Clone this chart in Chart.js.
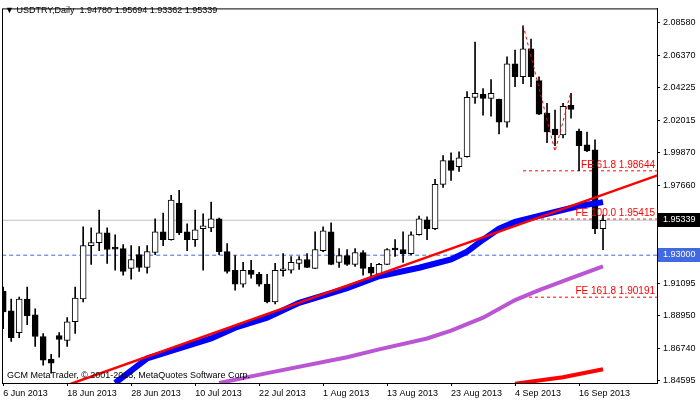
<!DOCTYPE html>
<html>
<head>
<meta charset="utf-8">
<script src="https://cdn.jsdelivr.net/npm/chart.js@4.4.0/dist/chart.umd.min.js"></script>
<style>
  html, body { margin: 0; padding: 0; background: #fff; }
  canvas { display: block; }
</style>
</head>
<body>
<canvas id="fx" width="700" height="402"></canvas>
<script>
// daily bars, 6 Jun 2013 .. 19 Sep 2013
var opens  = [1.9060,1.8928,1.8782,1.9007,1.8901,1.8756,1.8604,1.8763,1.8730,1.8855,
              1.9007,1.9364,1.9384,1.9450,1.9344,1.9344,1.9212,1.9304,1.9218,1.9318,
              1.9457,1.9404,1.9648,1.9457,1.9404,1.9477,1.9483,1.9543,1.9324,1.9199,
              1.9106,1.9199,1.9172,1.9106,1.8987,1.9196,1.9199,1.9245,1.9271,1.9212,
              1.9331,1.9457,1.9252,1.9298,1.9239,1.9318,1.9218,1.9172,1.9239,1.9338,
              1.9338,1.9311,1.9437,1.9536,1.9477,1.9774,1.9933,1.9893,1.9959,2.0356,
              2.0376,2.0349,2.0342,2.0190,2.0580,2.0494,2.0680,2.0468,2.0250,2.0144,
              2.0104,2.0303,2.0130,2.0038,2.0005,1.94780];
var highs  = [1.9086,1.9007,1.9020,1.9086,1.8941,1.8776,1.8637,1.8782,1.8882,1.9086,
              1.9490,1.9483,1.9602,1.9483,1.9437,1.9371,1.9364,1.9358,1.9364,1.9543,
              1.9582,1.9701,1.9734,1.9510,1.9602,1.9576,1.9655,1.9549,1.9377,1.9298,
              1.9252,1.9265,1.9185,1.9172,1.9245,1.9311,1.9291,1.9291,1.9311,1.9457,
              1.9490,1.9516,1.9344,1.9338,1.9344,1.9331,1.9245,1.9245,1.9344,1.9404,
              1.9457,1.9457,1.9562,1.9556,1.9807,1.9966,1.9985,1.9992,2.0395,2.0726,
              2.0415,2.0475,2.0345,2.0627,2.0673,2.0832,2.0746,2.0494,2.0316,2.0270,
              2.0316,2.0382,2.0144,2.0124,2.0071,1.95694];
var lows   = [1.8809,1.8723,1.8749,1.8835,1.8690,1.8564,1.8511,1.8617,1.8690,1.8776,
              1.8987,1.9239,1.9331,1.9245,1.9199,1.9166,1.9140,1.9192,1.9179,1.9304,
              1.9364,1.9400,1.9437,1.9331,1.9358,1.9199,1.9457,1.9304,1.9179,1.9066,
              1.9086,1.9146,1.9093,1.8981,1.8974,1.9159,1.9179,1.9205,1.9216,1.9210,
              1.9324,1.9236,1.9218,1.9232,1.9225,1.9166,1.9153,1.9166,1.9236,1.9291,
              1.9252,1.9304,1.9434,1.9404,1.9470,1.9754,1.9800,1.9860,1.9955,2.0316,
              2.0237,2.0230,2.0111,2.0157,2.0428,2.0448,2.0428,2.0240,2.0052,2.0032,
              2.0085,2.0217,1.9866,1.9992,1.9444,1.93362];
var closes = [1.8921,1.8749,1.9007,1.8895,1.8756,1.8597,1.8577,1.8736,1.8855,1.9013,
              1.9364,1.9384,1.9450,1.9338,1.9341,1.9192,1.9271,1.9218,1.9324,1.9457,
              1.9404,1.9668,1.9450,1.9404,1.9470,1.9497,1.9543,1.9324,1.9192,1.9106,
              1.9199,1.9172,1.9106,1.8987,1.9199,1.9199,1.9252,1.9271,1.9218,1.9338,
              1.9463,1.9239,1.9298,1.9239,1.9318,1.9212,1.9179,1.9239,1.9338,1.9335,
              1.9311,1.9437,1.9543,1.9477,1.9774,1.9933,1.9867,1.9952,2.0356,2.0382,
              2.0349,2.0382,2.0190,2.0580,2.0494,2.0680,2.0494,2.0243,2.0124,2.0104,
              2.0296,2.0276,2.0032,1.9998,1.9477,1.95339];

// indicator lines, [bar index, price]
var blueMA   = [[14,1.8445],[18,1.8610],[22,1.8676],[26,1.8743],[29,1.8815],[33,1.8882],
                [37,1.8981],[41,1.9047],[43,1.9080],[47,1.9159],[52,1.9216],[56,1.9271],
                [58,1.9324],[60,1.9404],[62,1.9477],[64,1.9523],[68,1.9576],[72,1.9629],[75,1.9655]];
var purpleMA = [[27,1.8445],[33,1.8511],[43,1.8617],[47,1.8670],[53,1.8743],[56,1.8796],
                [60,1.8882],[64,1.9000],[67,1.9066],[71,1.9146],[75,1.9225]];
var lowRed   = [[64,1.8440],[70,1.8484],[75,1.8537]];
var trendLine = [[8,1.8431],[82,1.9838]];
var zigzag   = [[65,2.0840],[69,1.9995],[71,2.0395]];

var feLevels = [["FE 61.8", 1.98644], ["FE 100.0", 1.95415], ["FE 161.8", 1.90191]];
var feStart = 65;
var bidPrice = 1.95339;
var alertPrice = 1.93000;

var yTicks = [2.08580, 2.06370, 2.04225, 2.02015, 1.99870, 1.97660, 1.91095, 1.88950, 1.86740, 1.84595];
var xTickIdx = [0, 8, 16, 24, 32, 40, 48, 56, 64, 72];
var xTickLabels = ["6 Jun 2013", "18 Jun 2013", "28 Jun 2013", "10 Jul 2013", "22 Jul 2013",
                   "1 Aug 2013", "13 Aug 2013", "23 Aug 2013", "4 Sep 2013", "16 Sep 2013"];

var FONT = "'Liberation Sans', Arial, sans-serif";

function pts(arr) { return arr.map(function (p) { return { x: p[0], y: p[1] }; }); }

var wicks = highs.map(function (h, i) { return { x: i, y: [lows[i], h] }; });
var bodies = opens.map(function (o, i) { return { x: i, y: [o, closes[i]] }; });
var bodyColors = opens.map(function (o, i) { return closes[i] >= o ? '#ffffff' : '#000000'; });

function hline(price, x0, color, dash) {
  return { type: 'line', data: [{ x: x0, y: price }, { x: 82, y: price }], borderColor: color,
           borderWidth: 1, borderDash: dash, pointRadius: 0, order: 5 };
}

var datasets = [
  hline(bidPrice, -1, '#c0c0c0', []),
  hline(alertPrice, -1, '#4169e1', [4, 3]),
  { type: 'bar', data: wicks, backgroundColor: '#000', barThickness: 1, grouped: false, order: 4 },
  { type: 'bar', data: bodies, backgroundColor: bodyColors, borderColor: '#000', borderWidth: 1,
    borderSkipped: false, barThickness: 6, minBarLength: 2, grouped: false, order: 3 },
  { type: 'line', data: pts(purpleMA), borderColor: '#ba55d3', borderWidth: 4, pointRadius: 0, order: 2 },
  { type: 'line', data: pts(lowRed), borderColor: '#ff0000', borderWidth: 4, pointRadius: 0, order: 2 },
  { type: 'line', data: pts(blueMA), borderColor: '#0000ff', borderWidth: 6, pointRadius: 0, order: 1 },
  { type: 'line', data: pts(trendLine), borderColor: '#ff0000', borderWidth: 2.5, pointRadius: 0, order: 0 },
  { type: 'line', data: pts(zigzag), borderColor: '#ff0000', borderWidth: 1, borderDash: [3, 3], pointRadius: 0, order: 0 }
];
feLevels.forEach(function (f) { datasets.push(hline(f[1], feStart, '#ff0000', [3, 3])); });

var overlay = {
  id: 'overlay',
  afterDraw: function (chart) {
    var c = chart.ctx, a = chart.chartArea, y = chart.scales.y;
    c.save();
    c.strokeStyle = '#000'; c.lineWidth = 1;
    c.strokeRect(a.left + 0.5, a.top + 0.5, a.right - a.left, a.bottom - a.top);
    c.font = '10px ' + FONT; c.fillStyle = '#ff0000'; c.textAlign = 'right'; c.textBaseline = 'bottom';
    feLevels.forEach(function (f) {
      c.fillText(f[0] + ' ' + f[1].toFixed(5), a.right - 2, y.getPixelForValue(f[1]) - 1);
    });
    function box(price, bg) {
      var py = Math.round(y.getPixelForValue(price));
      c.fillStyle = bg; c.fillRect(a.right + 1, py - 7, 42, 14);
      c.fillStyle = '#fff'; c.font = '9px ' + FONT; c.textAlign = 'left'; c.textBaseline = 'middle';
      c.fillText(price.toFixed(5), a.right + 6, py);
    }
    box(bidPrice, '#000');
    box(alertPrice, '#4169e1');
    c.fillStyle = '#000'; c.font = '9px ' + FONT; c.textAlign = 'left'; c.textBaseline = 'middle';
    c.fillText('\u25BC USDTRY,Daily  1.94780 1.95694 1.93362 1.95339', 5, 11);
    c.fillText('GCM MetaTrader, \u00A9 2001-2013, MetaQuotes Software Corp.', 7, 376);
    c.restore();
  }
};

new Chart(document.getElementById('fx'), {
  data: { datasets: datasets },
  plugins: [overlay],
  options: {
    responsive: false,
    animation: false,
    devicePixelRatio: 1,
    layout: { padding: { left: 2, top: 4, right: 0, bottom: 0 } },
    plugins: { legend: { display: false }, tooltip: { enabled: false } },
    scales: {
      x: {
        type: 'linear', min: -0.15, max: 81.75, offset: false,
        afterBuildTicks: function (s) { s.ticks = xTickIdx.map(function (v) { return { value: v }; }); },
        afterFit: function (s) { s.height = 19; },
        ticks: { autoSkip: false, maxRotation: 0, align: 'start', padding: 2, color: '#000',
                 font: { family: FONT, size: 9 },
                 callback: function (v) { var k = xTickIdx.indexOf(v); return k < 0 ? '' : xTickLabels[k]; } },
        grid: { drawOnChartArea: false, drawTicks: true, tickLength: 3, color: '#000', offset: false },
        border: { display: true, color: '#000' }
      },
      y: {
        position: 'right', min: 1.8445, max: 2.0951,
        afterBuildTicks: function (s) { s.ticks = yTicks.map(function (v) { return { value: v }; }); },
        afterFit: function (s) { s.width = 43; },
        ticks: { padding: 3, color: '#000', font: { family: FONT, size: 9 },
                 callback: function (v) { return v.toFixed(5); } },
        grid: { drawOnChartArea: false, drawTicks: true, tickLength: 3, color: '#000' },
        border: { display: true, color: '#000' }
      }
    }
  }
});
</script>
</body>
</html>
